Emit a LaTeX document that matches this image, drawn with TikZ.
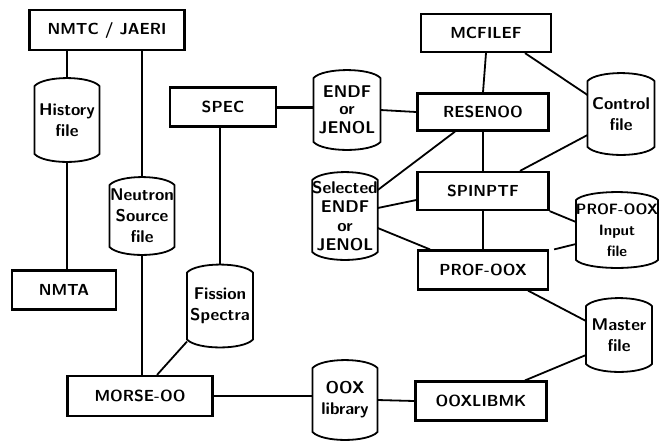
\documentclass[tikz,border=0pt]{standalone}
\usetikzlibrary{positioning, calc}

\begin{document}
\begin{tikzpicture}[
            x=0.5pt, y=-0.5pt,
            box/.style = {draw, line width=1.1pt, inner sep=0pt,
                font=\sffamily\bfseries\fontsize{8}{10}\selectfont},
            drum/.style = {inner sep=0pt, outer sep=0pt, align=center,
                font=\sffamily\bfseries\fontsize{8.5}{10.5}\selectfont},
            drumline/.style = {line width=0.9pt, line join=round},
            link/.style = {line width=0.9pt}]
            \useasboundingbox (0,0) rectangle (659,441);
            % program boxes
            \node[box, minimum width=77.5pt, minimum height=20pt] (nmtc) at (107,30) {NMTC / JAERI};
            \node[box, minimum width=53pt, minimum height=19.5pt] (spec) at (223,107) {SPEC};
            \node[box, minimum width=52pt, minimum height=19.5pt] (nmta) at (64,290) {NMTA};
            \node[box, minimum width=72.5pt, minimum height=20pt] (morse) at (140,396) {MORSE-OO};
            \node[box, minimum width=65pt, minimum height=19pt] (mcf) at (486,33) {MCFILEF};
            \node[box, minimum width=65.5pt, minimum height=18.5pt] (resend) at (483,112) {RESENOO};
            \node[box, minimum width=65.5pt, minimum height=19pt] (spinp) at (483,191) {SPINPTF};
            \node[box, minimum width=65pt, minimum height=19.5pt] (prof) at (483,270) {PROF-OOX};
            \node[box, minimum width=65.5pt, minimum height=19.5pt] (ooxlib) at (481,401) {OOXLIBMK};
            % data files
            \node[drum, minimum width=32.5pt, minimum height=42pt] (hist) at (67,120) {History\\file};
            \node[drum, minimum width=32.5pt, minimum height=39pt] (nsrc) at (142,216) {Neutron\\Source\\file};
            \node[drum, minimum width=33pt, minimum height=41.5pt] (fiss) at (220,306) {Fission\\Spectra};
            \node[drum, minimum width=33.5pt, minimum height=40pt] (endf) at (347,110) {ENDF\\[-2pt]or\\[-1pt]JENOL};
            \node[drum, minimum width=32.5pt, minimum height=44pt,
                font=\sffamily\bfseries\fontsize{8.5}{9.5}\selectfont] (sel) at (345,216) {Selected\\ENDF\\or\\JENOL};
            \node[drum, minimum width=35pt, minimum height=38pt,
                font=\sffamily\bfseries\fontsize{7.5}{10.5}\selectfont] (pinp) at (617,230) {PROF-OOX\\Input\\file};
            \node[drum, minimum width=33.5pt, minimum height=41pt] (ctrl) at (621,114) {Control\\file};
            \node[drum, minimum width=33pt, minimum height=37pt] (master) at (619,335) {Master\\file};
            \node[drum, minimum width=32.5pt, minimum height=40pt] (ddx) at (345,400) {OOX\\library};
            \foreach \d in {hist,nsrc,fiss,endf,sel,ctrl,pinp,master,ddx}
                \draw[drumline] ([yshift=-4pt]\d.north west)
                    .. controls ([xshift=5pt,yshift=1.3pt]\d.north west) and ([xshift=-5pt,yshift=1.3pt]\d.north east)
                    .. ([yshift=-4pt]\d.north east)
                    -- ([yshift=4pt]\d.south east)
                    .. controls ([xshift=-5pt,yshift=-1.3pt]\d.south east) and ([xshift=5pt,yshift=-1.3pt]\d.south west)
                    .. ([yshift=4pt]\d.south west) -- cycle;
            % connections
            \draw[link] (nmtc.south -| hist.north) -- (hist.north);
            \draw[link] (nmtc.south -| nsrc.north) -- (nsrc.north);
            \draw[link] (hist.south) -- (hist.south |- nmta.north);
            \draw[link] (nsrc.south) -- (nsrc.south |- morse.north);
            \draw[link] (spec.south -| fiss.north) -- (fiss.north);
            \draw[link] ([yshift=3pt]fiss.south west) -- ([xshift=8.5pt]morse.north);
            \draw[link, line width=1.5pt] (spec.east) -- (spec.east -| endf.west);
            \draw[link] (endf.east) -- (resend.west);
            \draw[link] (mcf.south) -- (resend.north);
            \draw[link] ([xshift=19.5pt]mcf.south) -- ([yshift=9.5pt]ctrl.west);
            \draw[link] (resend.south) -- (spinp.north);
            \draw[link] ([xshift=-14pt]resend.south) -- ([yshift=-9pt]sel.north east);
            \draw[link] ([yshift=-10.5pt]ctrl.west) -- ([xshift=18.5pt]spinp.north);
            \draw[link] ([yshift=4pt]sel.east) -- ([yshift=-4.5pt]spinp.west);
            \draw[link] ([yshift=-6pt]sel.east) -- ([xshift=-26.5pt]prof.north);
            \draw[link] (spinp.south) -- (prof.north);
            \draw[link] (spinp.south east) -- ([yshift=4pt]pinp.west);
            \draw[link] ([xshift=2.5pt]prof.north east) -- ([yshift=-7pt]pinp.west);
            \draw[link] ([xshift=22.5pt]prof.south) -- ([yshift=7pt]master.west);
            \draw[link] ([yshift=-10pt]master.west) -- ([xshift=22pt]ooxlib.north);
            \draw[link] (morse.east) -- (morse.east -| ddx.west);
            \draw[link] (ddx.east) -- (ooxlib.west);
        \end{tikzpicture}
\end{document}
